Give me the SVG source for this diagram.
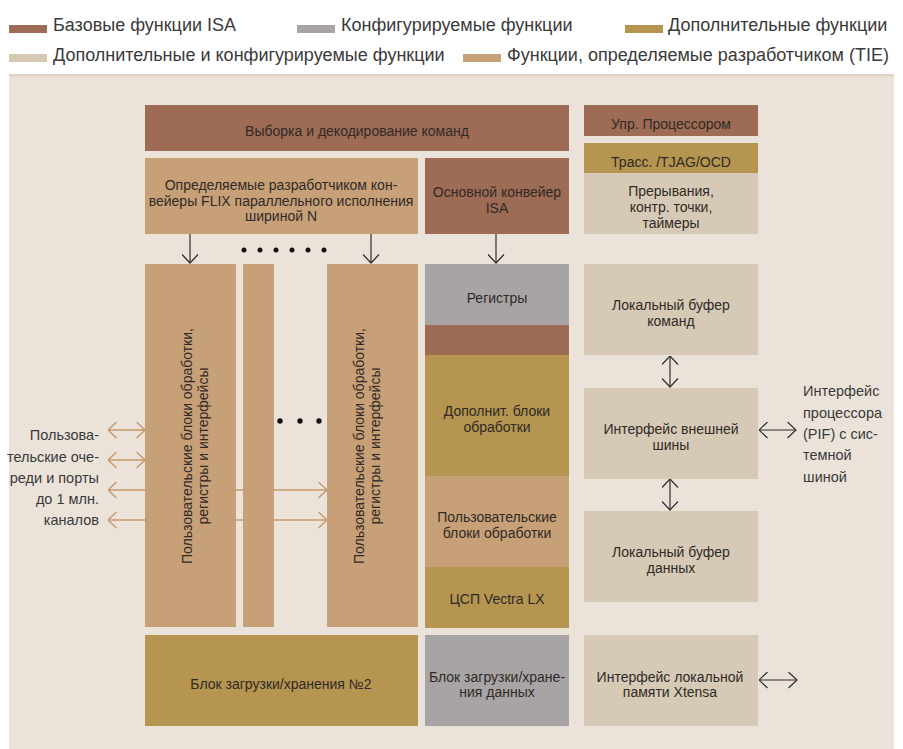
<svg xmlns="http://www.w3.org/2000/svg" width="903" height="749" viewBox="0 0 903 749">
<style>
.t{font-family:"Liberation Sans",Arial,sans-serif;font-size:14px;fill:#2f2a26;text-anchor:middle}
.lg{font-family:"Liberation Sans",Arial,sans-serif;font-size:18px;fill:#3a3a3a}
.lb{font-family:"Liberation Sans",Arial,sans-serif;font-size:14.5px;fill:#3a3a3a}
.isa{fill:#9e6b55}
.cfg{fill:#a8a4a5}
.add{fill:#b5954f}
.ac{fill:#d6cab7}
.tie{fill:#c8a077}
.dk{stroke:#2f2f2f;stroke-width:1.2;fill:none}
.tn{stroke:#c6986a;stroke-width:1.4;fill:none}
</style>
<defs>
<marker id="ah" viewBox="0 0 10 17" refX="9.5" refY="8.5" markerWidth="10" markerHeight="17" markerUnits="userSpaceOnUse" orient="auto-start-reverse">
<path d="M1,0.5 L9.5,8.5 L1,16.5" fill="none" stroke="#2f2f2f" stroke-width="1.2"/>
</marker>
<marker id="ahT" viewBox="0 0 10 17" refX="9.5" refY="8.5" markerWidth="10" markerHeight="17" markerUnits="userSpaceOnUse" orient="auto-start-reverse">
<path d="M1,0.5 L9.5,8.5 L1,16.5" fill="none" stroke="#c6986a" stroke-width="1.4"/>
</marker>
</defs>
<rect x="0" y="0" width="903" height="749" fill="#ffffff"/>
<g id="legend">
<rect x="9" y="25" width="38" height="8" class="isa"/>
<text x="53" y="31" class="lg">Базовые функции ISA</text>
<rect x="297" y="25" width="38" height="8" class="cfg"/>
<text x="341" y="31" class="lg">Конфигурируемые функции</text>
<rect x="625" y="25" width="38" height="8" class="add"/>
<text x="668" y="31" class="lg">Дополнительные функции</text>
<rect x="9" y="54" width="38" height="8" class="ac"/>
<text x="53" y="61" class="lg">Дополнительные и конфигурируемые функции</text>
<rect x="463" y="54" width="38" height="8" class="tie"/>
<text x="507" y="61" class="lg">Функции, определяемые разработчиком (TIE)</text>
</g>
<g id="panel">
<rect x="9" y="74" width="885" height="675" fill="#ebe3da"/>
<rect x="9" y="74" width="885" height="2.5" fill="#dfd3c6"/>
</g>
<g id="connectors">
<line x1="190" y1="234" x2="190" y2="263" class="dk" marker-end="url(#ah)"/>
<line x1="371" y1="234" x2="371" y2="263" class="dk" marker-end="url(#ah)"/>
<line x1="496" y1="234" x2="496" y2="263" class="dk" marker-end="url(#ah)"/>
<line x1="670" y1="356" x2="670" y2="387" class="dk" marker-start="url(#ah)" marker-end="url(#ah)"/>
<line x1="670" y1="479" x2="670" y2="510" class="dk" marker-start="url(#ah)" marker-end="url(#ah)"/>
<line x1="759" y1="430" x2="796" y2="430" class="dk" marker-start="url(#ah)" marker-end="url(#ah)"/>
<line x1="759" y1="680" x2="797" y2="680" class="dk" marker-start="url(#ah)" marker-end="url(#ah)"/>
<line x1="108" y1="430" x2="145" y2="430" class="tn" marker-start="url(#ahT)" marker-end="url(#ahT)"/>
<line x1="108" y1="460" x2="145" y2="460" class="tn" marker-start="url(#ahT)" marker-end="url(#ahT)"/>
<line x1="108" y1="490" x2="327" y2="490" class="tn" marker-start="url(#ahT)" marker-end="url(#ahT)"/>
<line x1="108" y1="520" x2="327" y2="520" class="tn" marker-start="url(#ahT)" marker-end="url(#ahT)"/>
</g>
<g id="dots" fill="#111">
<circle cx="244" cy="250" r="2.5"/><circle cx="260" cy="250" r="2.5"/><circle cx="276" cy="250" r="2.5"/>
<circle cx="292" cy="250" r="2.5"/><circle cx="308" cy="250" r="2.5"/><circle cx="324" cy="250" r="2.5"/>
<circle cx="280" cy="421" r="2.7"/><circle cx="300" cy="421" r="2.7"/><circle cx="319" cy="421" r="2.7"/>
</g>
<g id="fetch">
<rect x="145" y="105" width="424" height="46" class="isa"/>
<text x="357" y="136" class="t">Выборка и декодирование команд</text>
</g>
<g id="flix">
<rect x="145" y="158" width="273" height="76" class="tie"/>
<text class="t"><tspan x="281" y="190">Определяемые разработчиком кон-</tspan><tspan x="281" y="206">вейеры FLIX параллельного исполнения</tspan><tspan x="281" y="221">шириной N</tspan></text>
</g>
<g id="isa-pipe">
<rect x="425" y="158" width="144" height="76" class="isa"/>
<text class="t"><tspan x="497" y="197">Основной конвейер</tspan><tspan x="497" y="213">ISA</tspan></text>
</g>
<g id="col1">
<rect x="145" y="264" width="91" height="363" class="tie"/>
<text class="t" transform="translate(190.5,446) rotate(-90)"><tspan x="0" y="1">Пользовательские блоки обработки,</tspan><tspan x="0" y="17">регистры и интерфейсы</tspan></text>
</g>
<g id="col2">
<rect x="243" y="264" width="31" height="363" class="tie"/>
</g>
<g id="col3">
<rect x="327" y="264" width="91" height="363" class="tie"/>
<text class="t" transform="translate(372.5,446) rotate(-90)"><tspan x="0" y="-8.5">Пользовательские блоки обработки,</tspan><tspan x="0" y="7.5">регистры и интерфейсы</tspan></text>
</g>
<g id="regs">
<rect x="425" y="264" width="144" height="61" class="cfg"/>
<text x="497" y="303" class="t">Регистры</text>
</g>
<g id="isa-band">
<rect x="425" y="325" width="144" height="30" class="isa"/>
</g>
<g id="add-units">
<rect x="425" y="355" width="144" height="121" class="add"/>
<text class="t"><tspan x="497" y="416">Дополнит. блоки</tspan><tspan x="497" y="432">обработки</tspan></text>
</g>
<g id="user-units">
<rect x="425" y="476" width="144" height="91" class="tie"/>
<text class="t"><tspan x="497" y="522">Пользовательские</tspan><tspan x="497" y="538">блоки обработки</tspan></text>
</g>
<g id="dsp">
<rect x="425" y="567" width="144" height="61" class="add"/>
<text x="497" y="604" class="t">ЦСП Vectra LX</text>
</g>
<g id="ls2">
<rect x="145" y="635" width="273" height="91" class="add"/>
<text x="281" y="689" class="t">Блок загрузки/хранения №2</text>
</g>
<g id="ls-data">
<rect x="425" y="635" width="144" height="91" class="cfg"/>
<text class="t"><tspan x="497" y="682">Блок загрузки/хране-</tspan><tspan x="497" y="697">ния данных</tspan></text>
</g>
<g id="proc-ctrl">
<rect x="584" y="105" width="174" height="31" class="isa"/>
<text x="671" y="129" class="t">Упр. Процессором</text>
</g>
<g id="trace">
<rect x="584" y="143" width="174" height="30" class="add"/>
<text x="671" y="167" class="t">Трасс. /TJAG/OCD</text>
</g>
<g id="interrupts">
<rect x="584" y="173" width="174" height="61" class="ac"/>
<text class="t"><tspan x="671" y="196">Прерывания,</tspan><tspan x="671" y="212">контр. точки,</tspan><tspan x="671" y="228">таймеры</tspan></text>
</g>
<g id="ibuf">
<rect x="584" y="264" width="174" height="91" class="ac"/>
<text class="t"><tspan x="671" y="310">Локальный буфер</tspan><tspan x="671" y="326">команд</tspan></text>
</g>
<g id="extbus">
<rect x="584" y="388" width="174" height="91" class="ac"/>
<text class="t"><tspan x="671" y="434">Интерфейс внешней</tspan><tspan x="671" y="450">шины</tspan></text>
</g>
<g id="dbuf">
<rect x="584" y="511" width="174" height="91" class="ac"/>
<text class="t"><tspan x="671" y="557">Локальный буфер</tspan><tspan x="671" y="573">данных</tspan></text>
</g>
<g id="xlmi">
<rect x="584" y="635" width="174" height="91" class="ac"/>
<text class="t"><tspan x="670" y="682">Интерфейс локальной</tspan><tspan x="670" y="697">памяти Xtensa</tspan></text>
</g>
<g id="left-label">
<text class="lb" text-anchor="end"><tspan x="99" y="440">Пользова-</tspan><tspan x="99" y="461.5">тельские оче-</tspan><tspan x="99" y="483">реди и порты</tspan><tspan x="99" y="504">до 1 млн.</tspan><tspan x="99" y="525">каналов</tspan></text>
</g>
<g id="right-label">
<text class="lb"><tspan x="803" y="396">Интерфейс</tspan><tspan x="803" y="418">процессора</tspan><tspan x="803" y="439">(PIF) с сис-</tspan><tspan x="803" y="460">темной</tspan><tspan x="803" y="482">шиной</tspan></text>
</g>
</svg>
